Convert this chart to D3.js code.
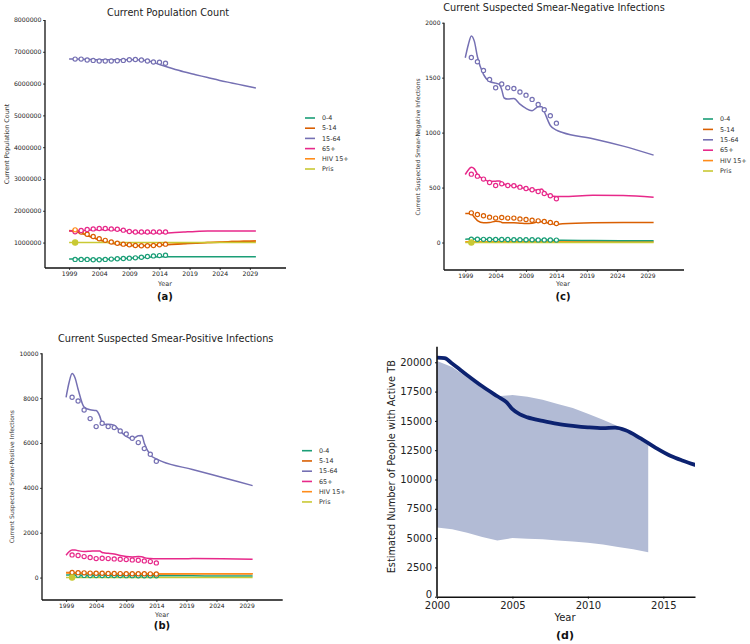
<!DOCTYPE html>
<html>
<head>
<meta charset="utf-8">
<script src="https://cdn.jsdelivr.net/npm/d3@7"></script>
<style>
  html, body { margin: 0; padding: 0; background: #fff; }
  svg { display: block; font-family: "DejaVu Sans", sans-serif; }
</style>
</head>
<body>
<svg id="chart" width="750" height="644"></svg>
<script>
// ---------------- DATA ----------------
const seriesNames = ["0-4", "5-14", "15-64", "65+", "HIV 15+", "Pris"];
const seriesColors = ["#1b9e77", "#d95f02", "#7570b3", "#e7298a", "#ff8c1a", "#c9c934"];

// Panel (a) Current Population Count
const popLineYears = [1999, 2000, 2002, 2004, 2006, 2008, 2010, 2012, 2014, 2016, 2018, 2020, 2022, 2024, 2026, 2028, 2030];
const pop_0_4   = [480000, 480000, 470000, 470000, 480000, 500000, 520000, 540000, 550000, 550000, 550000, 550000, 550000, 550000, 550000, 550000, 550000];
const pop_5_14  = [1370000, 1350000, 1220000, 1080000, 980000, 920000, 900000, 900000, 920000, 940000, 960000, 980000, 1000000, 1010000, 1030000, 1040000, 1050000];
const pop_15_64 = [6770000, 6770000, 6760000, 6750000, 6750000, 6750000, 6750000, 6720000, 6600000, 6480000, 6370000, 6280000, 6190000, 6100000, 6020000, 5940000, 5860000];
const pop_65    = [1360000, 1370000, 1390000, 1400000, 1400000, 1380000, 1320000, 1300000, 1300000, 1310000, 1330000, 1350000, 1360000, 1360000, 1360000, 1360000, 1360000];
const pop_hiv   = [1380000, 1370000, 1230000, 1090000, 990000, 930000, 910000, 910000, 930000, 950000, 970000, 990000, 1000000, 1020000, 1030000, 1040000, 1050000];
const pop_pris  = [1000000, 1000000, 1000000, 1000000, 1000000, 1000000, 1000000, 1000000, 1000000, 1000000, 1000000, 1000000, 1000000, 1000000, 1000000, 1000000, 1000000];
const popObsYears = [2000, 2001, 2002, 2003, 2004, 2005, 2006, 2007, 2008, 2009, 2010, 2011, 2012, 2013, 2014, 2015];
const popObs_0_4   = [470000, 470000, 470000, 460000, 460000, 470000, 480000, 490000, 500000, 510000, 520000, 540000, 560000, 580000, 590000, 600000];
const popObs_5_14  = [1370000, 1330000, 1260000, 1190000, 1120000, 1070000, 1020000, 980000, 950000, 930000, 910000, 900000, 900000, 910000, 930000, 950000];
const popObs_15_64 = [6770000, 6770000, 6740000, 6730000, 6710000, 6710000, 6710000, 6720000, 6730000, 6750000, 6760000, 6740000, 6710000, 6680000, 6670000, 6640000];
const popObs_65    = [1340000, 1380000, 1410000, 1430000, 1440000, 1440000, 1430000, 1420000, 1390000, 1350000, 1330000, 1330000, 1330000, 1330000, 1330000, 1330000];
const popObsHivYears = [2000];
const popObs_hiv  = [1400000];
const popObsPrisYears = [2000];
const popObs_pris = [1000000];

// Shared model-year grid for panels (b) and (c)
const infLineYears = [1999, 1999.5, 2000, 2000.5, 2001, 2002, 2003, 2004, 2004.6, 2005, 2005.4, 2006, 2007, 2008, 2009, 2010, 2011, 2011.6, 2012, 2013, 2014, 2015, 2020, 2025, 2030];
const infObsYears = [2000, 2001, 2002, 2003, 2004, 2005, 2006, 2007, 2008, 2009, 2010, 2011, 2012, 2013, 2014];

// Panel (c) Current Suspected Smear-Negative Infections
const neg_0_4   = [30, 31, 32, 31, 30, 29, 28, 27, 27, 26, 26, 26, 25, 25, 24, 24, 23, 23, 23, 22, 21, 21, 18, 16, 15];
const neg_5_14  = [264, 264, 262, 230, 200, 180, 182, 194, 192, 183, 180, 179, 179, 176, 173, 176, 188, 190, 186, 172, 167, 170, 179, 182, 182];
const neg_15_64 = [1681, 1800, 1880, 1830, 1690, 1530, 1465, 1450, 1440, 1390, 1315, 1305, 1310, 1259, 1220, 1200, 1235, 1235, 1190, 1065, 1023, 1001, 945, 877, 795];
const neg_65    = [619, 660, 685, 670, 620, 577, 555, 558, 560, 550, 530, 522, 516, 502, 490, 478, 478, 486, 462, 425, 418, 418, 430, 428, 413];
const neg_hiv   = [8, 8, 8, 8, 8, 8, 8, 8, 8, 8, 8, 8, 8, 8, 8, 8, 8, 8, 8, 8, 8, 8, 8, 8, 8];
const neg_pris  = [0, 0, 0, 0, 0, 0, 0, 0, 0, 0, 0, 0, 0, 0, 0, 0, 0, 0, 0, 0, 0, 0, 0, 0, 0];
const negObs_0_4   = [30, 30, 29, 28, 28, 27, 27, 26, 26, 25, 25, 24, 24, 23, 22];
const negObs_5_14  = [270, 255, 243, 231, 222, 228, 222, 222, 215, 209, 203, 197, 191, 182, 173];
const negObs_15_64 = [1684, 1645, 1566, 1484, 1408, 1442, 1408, 1402, 1369, 1341, 1302, 1256, 1208, 1153, 1086];
const negObs_65    = [622, 604, 577, 546, 519, 534, 519, 516, 504, 492, 480, 464, 446, 425, 398];
const negObsPrisYears = [2000];
const negObs_pris = [0];

// Panel (b) Current Suspected Smear-Positive Infections
const pos_0_4   = [110, 112, 110, 105, 100, 95, 92, 90, 90, 88, 88, 87, 86, 85, 84, 83, 82, 82, 81, 80, 79, 78, 76, 75, 74];
const pos_5_14  = [230, 230, 220, 210, 200, 190, 185, 180, 180, 178, 176, 175, 173, 170, 168, 166, 168, 168, 165, 162, 160, 160, 165, 168, 170];
const pos_15_64 = [8039, 8700, 9100, 8900, 8400, 7600, 7480, 7450, 7200, 6880, 6830, 6835, 6790, 6520, 6300, 6190, 6320, 6330, 5990, 5470, 5290, 5170, 4820, 4460, 4100];
const pos_65    = [996, 1150, 1230, 1230, 1200, 1160, 1175, 1190, 1180, 1120, 1100, 1085, 1055, 985, 940, 920, 935, 930, 890, 850, 835, 835, 845, 840, 818];
const pos_hiv   = [200, 200, 195, 190, 185, 180, 178, 176, 175, 175, 174, 174, 173, 172, 171, 170, 170, 170, 169, 168, 168, 168, 170, 172, 173];
const pos_pris  = [0, 0, 0, 0, 0, 0, 0, 0, 0, 0, 0, 0, 0, 0, 0, 0, 0, 0, 0, 0, 0, 0, 0, 0, 0];
const posObs_0_4   = [100, 98, 96, 94, 92, 90, 89, 88, 87, 86, 85, 84, 83, 82, 81];
const posObs_5_14  = [230, 220, 210, 200, 195, 190, 185, 180, 178, 175, 172, 170, 168, 165, 160];
const posObs_15_64 = [8039, 7875, 7474, 7088, 6731, 6880, 6731, 6686, 6538, 6404, 6211, 6018, 5750, 5498, 5186];
const posObs_65    = [1010, 981, 936, 892, 847, 862, 847, 832, 817, 802, 788, 773, 743, 713, 654];
const posObsPrisYears = [2000];
const posObs_pris = [0];

// Panel (d) Estimated Number of People with Active TB
const tbLineYears = [2000, 2000.5, 2001, 2002, 2003, 2004, 2004.6, 2005, 2005.5, 2006, 2007, 2008, 2009, 2010, 2011, 2011.8, 2012.5, 2013.5, 2014.5, 2015.5, 2016.3, 2017.1];
const tbLine = [20400, 20350, 19900, 18900, 17950, 17100, 16600, 16000, 15550, 15300, 15000, 14750, 14580, 14450, 14380, 14420, 14200, 13500, 12700, 12000, 11600, 11250];
const tbBandYears = [2000, 2001, 2002, 2003, 2004, 2005, 2006, 2007, 2008, 2009, 2010, 2011, 2012, 2013, 2014];
const tbBandUpper = [20100, 19600, 18700, 17800, 17100, 17200, 17050, 16800, 16450, 16100, 15600, 15100, 14550, 13800, 12900];
const tbBandLower = [5900, 5750, 5450, 5100, 4800, 5000, 4950, 4900, 4800, 4700, 4600, 4450, 4250, 4050, 3800];

const xTicksABC = [1999, 2004, 2009, 2014, 2019, 2024, 2029];
const yTicksA = [1000000, 2000000, 3000000, 4000000, 5000000, 6000000, 7000000, 8000000];
const yTicksB = [0, 2000, 4000, 6000, 8000, 10000];
const yTicksC = [0, 500, 1000, 1500, 2000];
const xTicksD = [2000, 2005, 2010, 2015];
const yTicksD = [0, 2500, 5000, 7500, 10000, 12500, 15000, 17500, 20000];

// ---------------- DRAW ----------------
const svg = d3.select("#chart");
const zip = (xs, ys) => xs.map((x, i) => [x, ys[i]]);

function smallPanel(cfg) {
  const x = d3.scaleLinear().domain(cfg.xDomain).range([cfg.left, cfg.right]);
  const y = d3.scaleLinear().domain(cfg.yDomain).range([cfg.bottom, cfg.top]);
  const g = svg.append("g");
  const clipId = "clip-" + cfg.id;
  g.append("clipPath").attr("id", clipId).append("rect")
    .attr("x", cfg.left).attr("y", cfg.top - 5)
    .attr("width", cfg.right - cfg.left).attr("height", cfg.bottom - cfg.top + 5);

  const line = d3.line().x(d => x(d[0])).y(d => y(d[1])).curve(d3.curveMonotoneX);
  const plot = g.append("g").attr("clip-path", `url(#${clipId})`);

  cfg.lineOrder.forEach(i => {
    plot.append("path").datum(zip(cfg.lineYears, cfg.lines[i]))
      .attr("d", line).attr("fill", "none")
      .attr("stroke", seriesColors[i]).attr("stroke-width", 1.5)
      .attr("stroke-linejoin", "round");
  });
  cfg.obs.forEach(o => {
    plot.selectAll(null).data(zip(o.years, o.values)).enter().append("circle")
      .attr("cx", d => x(d[0])).attr("cy", d => y(d[1])).attr("r", o.filled ? 2.6 : 2.1)
      .attr("fill", o.filled ? seriesColors[o.s] : "#fff")
      .attr("stroke", seriesColors[o.s]).attr("stroke-width", 1.2);
  });

  // axes
  const ax = g.append("g").attr("transform", `translate(0,${cfg.bottom})`)
    .call(d3.axisBottom(x).tickValues(xTicksABC).tickFormat(d3.format("d")).tickSize(2).tickSizeOuter(0).tickPadding(1.5));
  const ay = g.append("g").attr("transform", `translate(${cfg.left},0)`)
    .call(d3.axisLeft(y).tickValues(cfg.yTicks).tickFormat(d3.format("d")).tickSize(2).tickSizeOuter(0).tickPadding(1.5));
  [ax, ay].forEach(a => {
    a.select(".domain").attr("stroke", "#111").attr("stroke-width", 1.3);
    a.selectAll(".tick line").attr("stroke", "#111").attr("stroke-width", 0.8);
    a.selectAll(".tick text").attr("fill", "#222").style("font-size", cfg.tickFont + "px")
      .style("font-family", "DejaVu Sans");
  });
  ay.select(".domain").attr("d", `M0,${cfg.top}V${cfg.bottom}`);
  ax.select(".domain").attr("d", `M${cfg.left},0H${cfg.right}`);

  // title
  g.append("text").attr("x", cfg.titleX).attr("y", cfg.titleY).attr("text-anchor", "middle")
    .style("font-size", "9.7px").attr("fill", "#222").text(cfg.title);
  // y label
  g.append("text").attr("transform", `translate(${cfg.yLabelX},${cfg.yLabelY}) rotate(-90)`)
    .attr("text-anchor", "middle").attr("dy", "0.35em")
    .style("font-size", cfg.yLabelFont + "px").attr("fill", "#333").text(cfg.yLabel);
  // x label
  g.append("text").attr("x", cfg.xLabelX).attr("y", cfg.xLabelY).attr("text-anchor", "middle")
    .style("font-size", "6.5px").attr("fill", "#333").text("Year");
  // panel letter
  g.append("text").attr("x", cfg.xLabelX).attr("y", cfg.letterY).attr("text-anchor", "middle")
    .style("font-size", "10px").style("font-weight", "bold").attr("fill", "#111").text(cfg.letter);

  // legend
  const lg = g.append("g");
  seriesNames.forEach((n, i) => {
    const yy = cfg.legY + i * cfg.legStep;
    lg.append("line").attr("x1", cfg.legX).attr("x2", cfg.legX + 10).attr("y1", yy).attr("y2", yy)
      .attr("stroke", seriesColors[i]).attr("stroke-width", 1.6);
    lg.append("text").attr("x", cfg.legX + 17).attr("y", yy).attr("dy", "0.35em")
      .style("font-size", "6.4px").attr("fill", "#333").text(n);
  });
}

// Panel (a)
smallPanel({
  id: "a", left: 45, right: 286, top: 20, bottom: 268,
  xDomain: [1995, 2035], yDomain: [200000, 8000000], yTicks: yTicksA, tickFont: 6.2,
  lineYears: popLineYears,
  lines: [pop_0_4, pop_5_14, pop_15_64, pop_65, pop_hiv, pop_pris],
  lineOrder: [0, 4, 1, 2, 3, 5],
  obs: [
    { s: 0, years: popObsYears, values: popObs_0_4 },
    { s: 1, years: popObsYears, values: popObs_5_14 },
    { s: 2, years: popObsYears, values: popObs_15_64 },
    { s: 3, years: popObsYears, values: popObs_65 },
    { s: 4, years: popObsHivYears, values: popObs_hiv },
    { s: 5, years: popObsPrisYears, values: popObs_pris, filled: true }
  ],
  title: "Current Population Count", titleX: 168, titleY: 16,
  yLabel: "Current Population Count", yLabelX: 7, yLabelY: 144, yLabelFont: 6.4,
  xLabelX: 165, xLabelY: 286, letter: "(a)", letterY: 299.5,
  legX: 305, legY: 118, legStep: 10.2
});

// Panel (c)
smallPanel({
  id: "c", left: 444, right: 684, top: 22.7, bottom: 270,
  xDomain: [1995.5, 2035], yDomain: [-250, 2000], yTicks: yTicksC, tickFont: 6,
  lineYears: infLineYears,
  lines: [neg_0_4, neg_5_14, neg_15_64, neg_65, neg_hiv, neg_pris],
  lineOrder: [4, 0, 1, 2, 3, 5],
  obs: [
    { s: 0, years: infObsYears, values: negObs_0_4 },
    { s: 1, years: infObsYears, values: negObs_5_14 },
    { s: 2, years: infObsYears, values: negObs_15_64 },
    { s: 3, years: infObsYears, values: negObs_65 },
    { s: 5, years: negObsPrisYears, values: negObs_pris, filled: true }
  ],
  title: "Current Suspected Smear-Negative Infections", titleX: 554, titleY: 11.4,
  yLabel: "Current Suspected Smear-Negative Infections", yLabelX: 418, yLabelY: 147, yLabelFont: 6,
  xLabelX: 563, xLabelY: 286.4, letter: "(c)", letterY: 299.5,
  legX: 703, legY: 119, legStep: 10.4
});

// Panel (b)
smallPanel({
  id: "b", left: 42, right: 282.7, top: 353.3, bottom: 600,
  xDomain: [1995, 2035], yDomain: [-1000, 10000], yTicks: yTicksB, tickFont: 6,
  lineYears: infLineYears,
  lines: [pos_0_4, pos_5_14, pos_15_64, pos_65, pos_hiv, pos_pris],
  lineOrder: [0, 1, 2, 3, 4, 5],
  obs: [
    { s: 0, years: infObsYears, values: posObs_0_4 },
    { s: 1, years: infObsYears, values: posObs_5_14 },
    { s: 2, years: infObsYears, values: posObs_15_64 },
    { s: 3, years: infObsYears, values: posObs_65 },
    { s: 5, years: posObsPrisYears, values: posObs_pris, filled: true }
  ],
  title: "Current Suspected Smear-Positive Infections", titleX: 165.7, titleY: 342,
  yLabel: "Current Suspected Smear-Positive Infections", yLabelX: 12, yLabelY: 476.7, yLabelFont: 6,
  xLabelX: 162, xLabelY: 617, letter: "(b)", letterY: 629,
  legX: 302, legY: 450.7, legStep: 10.25
});

// Panel (d)
(function () {
  const left = 437, right = 695, top = 346.7, bottom = 596.7;
  const x = d3.scaleLinear().domain([2000, 2017.1]).range([left, right]);
  const y = d3.scaleLinear().domain([0, 21330]).range([bottom, top]);
  const g = svg.append("g");
  g.append("clipPath").attr("id", "clip-d").append("rect")
    .attr("x", left).attr("y", top - 5).attr("width", right - left).attr("height", bottom - top + 5);
  const plot = g.append("g").attr("clip-path", "url(#clip-d)");

  const area = d3.area().x(d => x(d[0])).y0(d => y(d[1])).y1(d => y(d[2]));
  plot.append("path").datum(tbBandYears.map((yr, i) => [yr, tbBandLower[i], tbBandUpper[i]]))
    .attr("d", area).attr("fill", "#b2bbd5");
  const line = d3.line().x(d => x(d[0])).y(d => y(d[1])).curve(d3.curveMonotoneX);
  plot.append("path").datum(zip(tbLineYears, tbLine)).attr("d", line)
    .attr("fill", "none").attr("stroke", "#0c2270").attr("stroke-width", 3.8)
    .attr("stroke-linecap", "round");

  const ax = g.append("g").attr("transform", `translate(0,${bottom})`)
    .call(d3.axisBottom(x).tickValues(xTicksD).tickFormat(d3.format("d")).tickSize(2).tickSizeOuter(0).tickPadding(3));
  const ay = g.append("g").attr("transform", `translate(${left},0)`)
    .call(d3.axisLeft(y).tickValues(yTicksD).tickFormat(d3.format("d")).tickSize(2).tickSizeOuter(0).tickPadding(3));
  [ax, ay].forEach(a => {
    a.select(".domain").attr("stroke", "#111").attr("stroke-width", 1.6);
    a.selectAll(".tick line").attr("stroke", "#111");
    a.selectAll(".tick text").attr("fill", "#222").style("font-size", "10px").style("font-family", "DejaVu Sans");
  });
  ay.select(".domain").attr("d", `M0,${top}V${bottom}`);
  // lift the "0" label slightly so it clears the first year label
  ay.selectAll(".tick text").filter(d => d === 0).attr("dy", "0.05em");

  g.append("text").attr("transform", `translate(391.7,466.7) rotate(-90)`)
    .attr("text-anchor", "middle").attr("dy", "0.35em")
    .style("font-size", "9.8px").attr("fill", "#222").text("Estimated Number of People with Active TB");
  g.append("text").attr("x", 565).attr("y", 621).attr("text-anchor", "middle")
    .style("font-size", "10px").attr("fill", "#222").text("Year");
  g.append("text").attr("x", 565).attr("y", 638.5).attr("text-anchor", "middle")
    .style("font-size", "11px").style("font-weight", "bold").attr("fill", "#111").text("(d)");
})();
</script>
</body>
</html>
